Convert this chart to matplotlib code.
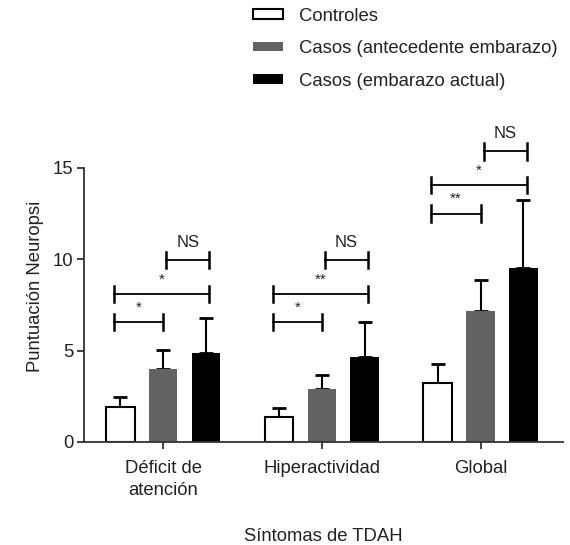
import matplotlib.pyplot as plt
import numpy as np

plt.rcParams['font.family'] = ['Liberation Sans', 'DejaVu Sans']

groups = ['Déficit de\natención', 'Hiperactividad', 'Global']
series = ['Controles', 'Casos (antecedente embarazo)', 'Casos (embarazo actual)']
controles = [1.9, 1.35, 3.25]
controles_err = [0.55, 0.5, 1.02]
antecedente = [4.0, 2.9, 7.15]
antecedente_err = [1.05, 0.75, 1.72]
actual = [4.87, 4.65, 9.5]
actual_err = [1.93, 1.9, 3.75]

# brackets: (group, left bar, right bar, height, label)
brackets = [
    (0, 0, 1, 6.57, '*'), (0, 0, 2, 8.1, '*'), (0, 1, 2, 9.96, 'NS'),
    (1, 0, 1, 6.57, '*'), (1, 0, 2, 8.1, '**'), (1, 1, 2, 9.96, 'NS'),
    (2, 0, 1, 12.5, '**'), (2, 0, 2, 14.07, '*'), (2, 1, 2, 15.9, 'NS'),
]

fig = plt.figure(figsize=(5.7, 5.45), dpi=100)
ax = fig.add_axes([0.147, 0.189, 0.841, 0.570])

x = np.arange(len(groups))
w = 0.18
off = 0.27
colors = ['white', '#636363', 'black']
vals = [controles, antecedente, actual]
errs = [controles_err, antecedente_err, actual_err]
for i in range(3):
    ax.bar(x + (i - 1) * off, vals[i], w, color=colors[i], edgecolor='black',
           linewidth=1.5 if i == 0 else 0, label=series[i], zorder=2)
    ax.errorbar(x + (i - 1) * off, vals[i], yerr=[np.zeros(3), errs[i]], fmt='none',
                ecolor='black', elinewidth=1.5, capsize=5, capthick=2, zorder=1)

ends = {0: -0.31, 1: 0.0, 2: 0.29}
for g, a, b, h, lab in brackets:
    x1 = g + ends[a]
    x2 = g + ends[b]
    if a == 1:
        x1 = g + 0.02
    ax.plot([x1, x2], [h, h], color='black', lw=1.3, clip_on=False)
    ax.plot([x1, x1], [h - 0.45, h + 0.45], color='black', lw=1.8, clip_on=False)
    ax.plot([x2, x2], [h - 0.45, h + 0.45], color='black', lw=1.8, clip_on=False)
    ax.text((x1 + x2) / 2, h + 0.4 if lab != 'NS' else h + 0.55, lab,
            ha='center', va='bottom', fontsize=11 if lab != 'NS' else 12,
            color='#222222')

ax.set_xlim(-0.5, 2.52)
ax.set_ylim(0, 17)
ax.spines['left'].set_bounds(0, 15)
ax.spines['top'].set_visible(False)
ax.spines['right'].set_visible(False)
for s in ['left', 'bottom']:
    ax.spines[s].set_linewidth(1.3)
    ax.spines[s].set_color('#333333')
ax.set_yticks([0, 5, 10, 15])
ax.set_xticks(x)
ax.set_xticklabels(groups, fontsize=13.3, linespacing=1.4)
ax.tick_params(axis='both', direction='out', length=5, width=1.3, color='#333333',
               labelsize=13.3, labelcolor='#222222')
ax.tick_params(axis='y', pad=2.5)
ax.tick_params(axis='x', pad=8)
ax.set_ylabel('Puntuación Neuropsi', fontsize=13.3, labelpad=6, color='#222222')
ax.set_xlabel('Síntomas de TDAH', fontsize=13.3, labelpad=21, color='#222222')

leg = fig.legend(loc='upper left', bbox_to_anchor=(0.415, 1.016), frameon=False, fontsize=13.3,
                 handlelength=1.6, handleheight=0.43, handletextpad=0.9, labelspacing=0.83)
for t in leg.get_texts():
    t.set_color('#222222')

plt.savefig('out.png', dpi=100)
